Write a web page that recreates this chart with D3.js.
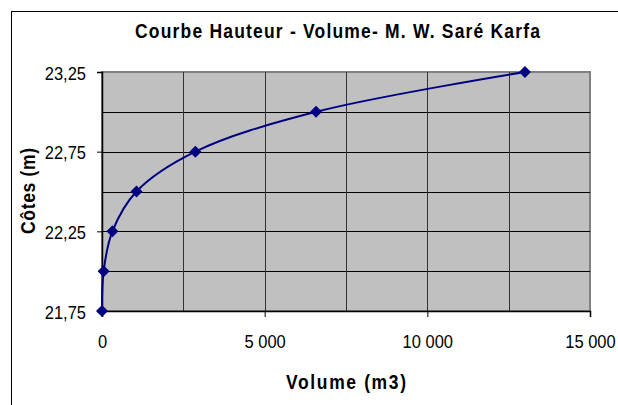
<!DOCTYPE html>
<html>
<head>
<meta charset="utf-8">
<script src="https://cdn.jsdelivr.net/npm/d3@7"></script>
<style>
  html, body { margin: 0; padding: 0; background: #fff; }
  svg { display: block; }
  text { font-family: "Liberation Sans", Arial, sans-serif; }
</style>
</head>
<body>
<svg id="chart" width="618" height="405"></svg>
<script>
const title = "Courbe Hauteur - Volume- M. W. Saré Karfa";
const xTitle = "Volume (m3)";
const yTitle = "Côtes (m)";
const volumes = [0, 50, 320, 1060, 2870, 6580, 13000];
const cotes = [21.75, 22.0, 22.25, 22.5, 22.75, 23.0, 23.25];
const xTicks = [0, 5000, 10000, 15000];
const xGrid = [2500, 5000, 7500, 10000, 12500];
const yTicks = [21.75, 22.25, 22.75, 23.25];
const yGrid = [22.0, 22.25, 22.5, 22.75, 23.0];

(function () {
const svg = d3.select("#chart");
const pL = 102, pR = 590, pT = 72, pB = 311;
const stretch = 1.15;

const x = d3.scaleLinear().domain([0, 15000]).range([pL, pR]);
const y = d3.scaleLinear().domain([21.75, 23.25]).range([pB, pT]);

// outer chart border
svg.append("rect").attr("x", 11.5).attr("y", 11.5).attr("width", 640).attr("height", 420)
  .attr("fill", "#fff").attr("stroke", "#000").attr("stroke-width", 1);

// plot area
svg.append("rect").attr("x", pL).attr("y", pT).attr("width", pR - pL).attr("height", pB - pT)
  .attr("fill", "#c0c0c0").attr("stroke", "#808080").attr("stroke-width", 2);

// gridlines
svg.append("g").selectAll("line").data(yGrid).join("line")
  .attr("x1", pL).attr("x2", pR)
  .attr("y1", d => Math.round(y(d)) + 0.5).attr("y2", d => Math.round(y(d)) + 0.5)
  .attr("stroke", "#000").attr("stroke-width", 1);
svg.append("g").selectAll("line").data(xGrid).join("line")
  .attr("y1", pT).attr("y2", pB)
  .attr("x1", d => Math.round(x(d)) + 0.5).attr("x2", d => Math.round(x(d)) + 0.5)
  .attr("stroke", "#333").attr("stroke-width", 1);

const fmtY = d => d3.format(".2f")(d).replace(".", ",");
const fmtX = d => d3.format(",")(d).replace(/,/g, " ");

// axes
const xAxis = d3.axisBottom(x).tickValues(xTicks).tickFormat(fmtX).tickSize(6);
const gx = svg.append("g").attr("transform", `translate(0,${pB})`).call(xAxis);
gx.select(".domain").attr("stroke", "#000").attr("stroke-width", 1.5);
gx.selectAll(".tick line").attr("stroke", "#000");
gx.selectAll(".tick text").attr("font-size", 16.5).attr("fill", "#000")
  .attr("font-family", "Liberation Sans, Arial, sans-serif")
  .attr("y", null).attr("dy", null)
  .attr("transform", `translate(0,37) scale(1,${stretch})`);

const yAxis = d3.axisLeft(y).tickValues(yTicks).tickFormat(fmtY).tickSize(5);
const gy = svg.append("g").attr("transform", `translate(${pL},0)`).call(yAxis);
gy.select(".domain").attr("stroke", "#000").attr("stroke-width", 1.5);
gy.selectAll(".tick line").attr("stroke", "#000");
gy.selectAll(".tick text").attr("font-size", 16.5).attr("fill", "#000")
  .attr("font-family", "Liberation Sans, Arial, sans-serif")
  .attr("x", null).attr("dy", null)
  .attr("transform", `translate(-16,7) scale(1,${stretch})`);

// line
const data = volumes.map((v, i) => ({ v, c: cotes[i] }));
const line = d3.line().x(d => x(d.v)).y(d => y(d.c)).curve(d3.curveCatmullRom.alpha(0.5));
svg.append("path").datum(data).attr("d", line)
  .attr("fill", "none").attr("stroke", "#000080").attr("stroke-width", 2);

// diamond markers
const r = 6;
svg.append("g").selectAll("path").data(data).join("path")
  .attr("d", `M0,${-r}L${r},0L0,${r}L${-r},0Z`)
  .attr("transform", d => `translate(${x(d.v)},${y(d.c)})`)
  .attr("fill", "#000080");

// titles
function label(tx, ty, rot, txt, len) {
  svg.append("text")
    .attr("transform", `translate(${tx},${ty}) rotate(${rot}) scale(1,${stretch})`)
    .attr("text-anchor", "middle")
    .attr("font-size", 17.5).attr("font-weight", "bold").attr("fill", "#000")
    .attr("textLength", len).attr("lengthAdjust", "spacing")
    .text(txt);
}
label(337.5, 38, 0, title, 405);
label(346, 389, 0, xTitle, 120);
label(35, 191, -90, yTitle, 86);
})();
</script>
</body>
</html>
